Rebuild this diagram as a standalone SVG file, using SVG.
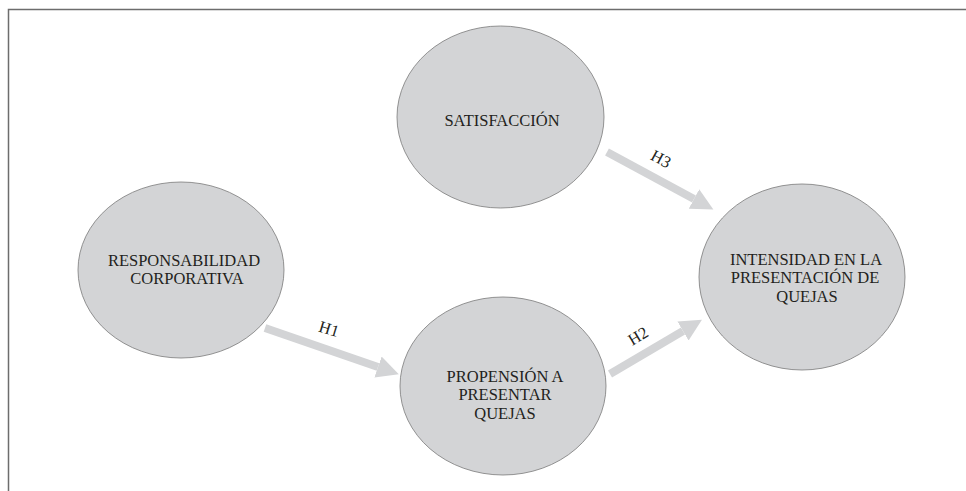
<svg xmlns="http://www.w3.org/2000/svg" width="966" height="491" viewBox="0 0 966 491">
<style>
.node ellipse{fill:#d3d4d6;stroke:#7a7a7a;stroke-width:0.8}
.node text,.lbl{font-family:"Liberation Serif","Times New Roman",serif;font-size:16.5px;fill:#231f20;text-anchor:middle}
.conn line{stroke:#d3d4d6;stroke-width:8}
</style>
<defs>
<marker id="ah" markerUnits="userSpaceOnUse" markerWidth="23" markerHeight="23" refX="0" refY="11" orient="auto" viewBox="0 0 23 22">
<path d="M0,0 L22,11 L0,22 z" fill="#d3d4d6"/>
</marker>
</defs>
<rect width="966" height="491" fill="#ffffff"/>
<polyline points="8.5,491 8.5,9.5 966,9.5" fill="none" stroke="#6d6d6d" stroke-width="1.5"/>
<g class="conn">
<line x1="265" y1="328" x2="378" y2="367" marker-end="url(#ah)"/>
<line x1="610" y1="374" x2="683" y2="331" marker-end="url(#ah)"/>
<line x1="607" y1="152" x2="694" y2="199" marker-end="url(#ah)"/>
<text class="lbl" transform="translate(329,329) rotate(17)" x="0" y="5.5">H1</text>
<text class="lbl" transform="translate(638,336) rotate(-31)" x="0" y="5.5">H2</text>
<text class="lbl" transform="translate(661,159) rotate(28)" x="0" y="5.5">H3</text>
</g>
<g id="responsabilidad" class="node">
<ellipse cx="181" cy="270" rx="103" ry="88"/>
<text x="184" y="266">RESPONSABILIDAD</text>
<text x="187" y="284">CORPORATIVA</text>
</g>
<g id="satisfaccion" class="node">
<ellipse cx="500.5" cy="117" rx="103.5" ry="91"/>
<text x="502" y="126">SATISFACCIÓN</text>
</g>
<g id="propension" class="node">
<ellipse cx="503" cy="386" rx="103" ry="89"/>
<text x="505" y="382">PROPENSIÓN A</text>
<text x="505" y="400">PRESENTAR</text>
<text x="505" y="419">QUEJAS</text>
</g>
<g id="intensidad" class="node">
<ellipse cx="802" cy="277" rx="103" ry="93"/>
<text x="806" y="265">INTENSIDAD EN LA</text>
<text x="805" y="283">PRESENTACIÓN DE</text>
<text x="807" y="302">QUEJAS</text>
</g>
</svg>
